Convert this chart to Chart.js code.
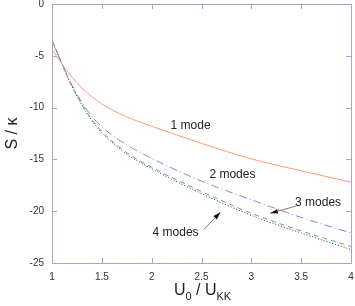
<!DOCTYPE html>
<html><head><meta charset="utf-8">
<script src="https://cdn.jsdelivr.net/npm/chart.js@4.4.1/dist/chart.umd.min.js"></script>
<style>html,body{margin:0;padding:0;background:#fff}#c{display:block}</style>
</head><body>
<canvas id="c" width="355" height="306"></canvas>
<script>
const xValues = [1, 1.05, 1.1, 1.2, 1.3, 1.4, 1.5, 1.6, 1.75, 2, 2.5, 3, 3.5, 4];
const mode1 = [-4.4, -5.1, -5.8, -7.05, -8.1, -8.95, -9.65, -10.2, -10.9, -11.8, -13.45, -14.95, -16.1, -17.2];
const mode2 = [-3.5, -4.65, -5.75, -7.8, -9.5, -10.85, -11.85, -12.65, -13.6, -14.9, -17.1, -18.9, -20.6, -22.1];
const mode3 = [-3.5, -4.65, -5.8, -7.9, -9.7, -11.15, -12.3, -13.2, -14.35, -15.75, -18.1, -20.2, -21.9, -23.4];
const mode4 = [-3.5, -4.65, -5.8, -7.95, -9.75, -11.25, -12.45, -13.35, -14.5, -15.9, -18.3, -20.4, -22.1, -23.7];
const xTicks = [1, 1.5, 2, 2.5, 3, 3.5, 4];
const yTicks = [0, -5, -10, -15, -20, -25];

const FRAME = '#aaa4cc';
const FONT = '"Liberation Sans", Arial, sans-serif';
const pts = arr => arr.map((v, i) => ({x: xValues[i], y: v}));

const frame = {
  id: 'frame',
  afterDraw(chart) {
    const {ctx, chartArea: a, scales: {x, y}} = chart;
    ctx.save();
    ctx.strokeStyle = FRAME; ctx.lineWidth = 1;
    ctx.strokeRect(Math.round(a.left) + 0.5, Math.round(a.top) + 0.5, Math.round(a.right - a.left), Math.round(a.bottom - a.top));
    const t = 5;
    ctx.beginPath();
    xTicks.forEach(v => {
      const px = Math.round(x.getPixelForValue(v)) + 0.5;
      ctx.moveTo(px, a.bottom); ctx.lineTo(px, a.bottom - t);
      ctx.moveTo(px, a.top); ctx.lineTo(px, a.top + t);
    });
    yTicks.forEach(v => {
      const py = Math.round(y.getPixelForValue(v)) + 0.5;
      ctx.moveTo(a.left, py); ctx.lineTo(a.left + t, py);
      ctx.moveTo(a.right, py); ctx.lineTo(a.right - t, py);
    });
    ctx.stroke();

    ctx.fillStyle = '#222';
    ctx.font = '12px ' + FONT;
    ctx.textAlign = 'center'; ctx.textBaseline = 'middle';
    const P = (vx, vy) => [x.getPixelForValue(vx), y.getPixelForValue(vy)];
    const label = (s, vx, vy) => { const [px, py] = P(vx, vy); ctx.fillText(s, px, py); };
    label('1 mode', 2.39, -11.7);
    label('2 modes', 2.81, -16.5);
    label('3 modes', 3.67, -19.2);
    label('4 modes', 2.24, -22.1);
    const arrow = (x0, y0, x1, y1) => {
      const [a0, b0] = P(x0, y0), [a1, b1] = P(x1, y1);
      ctx.strokeStyle = '#555'; ctx.lineWidth = 0.8;
      ctx.beginPath(); ctx.moveTo(a0, b0); ctx.lineTo(a1, b1); ctx.stroke();
      const ang = Math.atan2(b1 - b0, a1 - a0), L = 8, W = 0.3;
      ctx.fillStyle = '#111';
      ctx.beginPath(); ctx.moveTo(a1, b1);
      ctx.lineTo(a1 - L * Math.cos(ang - W), b1 - L * Math.sin(ang - W));
      ctx.lineTo(a1 - L * Math.cos(ang + W), b1 - L * Math.sin(ang + W));
      ctx.closePath(); ctx.fill();
    };
    arrow(3.45, -19.5, 3.19, -20.2);
    arrow(2.52, -21.8, 2.69, -20.1);

    ctx.fillStyle = '#222';
    ctx.textBaseline = 'alphabetic'; ctx.textAlign = 'left';
    const parts = [['U', 16, 0], ['0', 11, 5], [' / U', 16, 0], ['KK', 11, 5]];
    let w = 0;
    parts.forEach(([s, f]) => { ctx.font = f + 'px ' + FONT; w += ctx.measureText(s).width; });
    let cx = (a.left + a.right) / 2 - w / 2 + 1, base = 295;
    parts.forEach(([s, f, d]) => { ctx.font = f + 'px ' + FONT; ctx.fillText(s, cx, base + d); cx += ctx.measureText(s).width; });

    ctx.save();
    ctx.translate(17, (a.top + a.bottom) / 2);
    ctx.rotate(-Math.PI / 2);
    ctx.font = '16px ' + FONT; ctx.textAlign = 'center';
    ctx.fillText('S / κ', 0, 0);
    ctx.restore();
    ctx.restore();
  }
};

new Chart(document.getElementById('c'), {
  type: 'line',
  data: {
    datasets: [
      {label: '1 mode', data: pts(mode1), borderColor: '#ff9a78', borderWidth: 1, pointRadius: 0, cubicInterpolationMode: 'monotone'},
      {label: '2 modes', data: pts(mode2), borderColor: '#8a84d8', borderWidth: 1, borderDash: [8, 3, 1, 3], pointRadius: 0, cubicInterpolationMode: 'monotone'},
      {label: '3 modes', data: pts(mode3), borderColor: '#5fa882', borderWidth: 1, borderDash: [5, 4], pointRadius: 0, cubicInterpolationMode: 'monotone'},
      {label: '4 modes', data: pts(mode4), borderColor: '#333', borderWidth: 1, borderDash: [1, 2], pointRadius: 0, cubicInterpolationMode: 'monotone'}
    ]
  },
  options: {
    responsive: false, animation: false,
    layout: {padding: {top: 4, right: 4, left: 0, bottom: 0}, autoPadding: false},
    plugins: {legend: {display: false}, tooltip: {enabled: false}},
    scales: {
      x: {
        type: 'linear', min: 1, max: 4,
        grid: {display: false, drawTicks: false}, border: {display: false},
        afterBuildTicks: s => { s.ticks = xTicks.map(v => ({value: v})); },
        afterFit: s => { s.height = 43; s.paddingLeft = 0; s.paddingRight = 0; },
        ticks: {padding: 8, color: '#333', font: {size: 10, family: FONT}, maxRotation: 0, callback: v => String(v)}
      },
      y: {
        min: -25, max: 0,
        grid: {display: false, drawTicks: false}, border: {display: false},
        afterBuildTicks: s => { s.ticks = yTicks.map(v => ({value: v})); },
        afterFit: s => { s.width = 52; s.paddingTop = 0; s.paddingBottom = 0; },
        ticks: {padding: 8, color: '#333', font: {size: 10, family: FONT}, callback: v => String(v)}
      }
    }
  },
  plugins: [frame]
});
</script>
</body></html>
